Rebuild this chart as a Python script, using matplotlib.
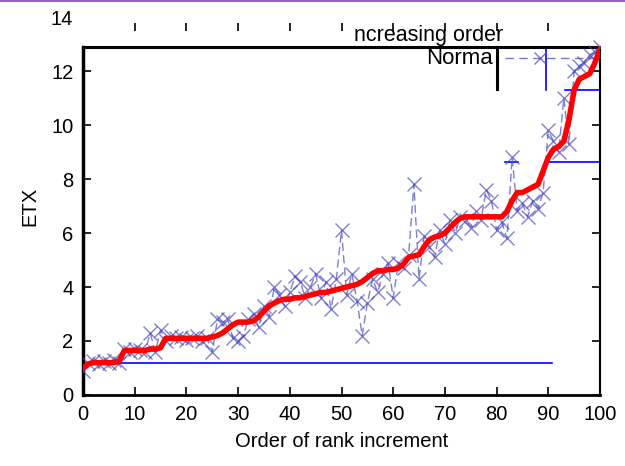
#! /usr/bin/env python3
import matplotlib
matplotlib.use('Agg')
import matplotlib.pyplot as plt

# order of rank increment (0..100)
order = list(range(101))

# sorted / increasing-order ETX (red)
etx_sorted = [
    1.0, 1.15, 1.2, 1.2, 1.2, 1.2, 1.2, 1.25, 1.65, 1.65,
    1.65, 1.65, 1.65, 1.7, 1.7, 1.75, 2.1, 2.1, 2.1, 2.1,
    2.1, 2.1, 2.1, 2.1, 2.1, 2.15, 2.2, 2.3, 2.45, 2.6,
    2.7, 2.7, 2.7, 2.75, 2.9, 3.1, 3.3, 3.4, 3.5, 3.55,
    3.55, 3.6, 3.6, 3.65, 3.7, 3.75, 3.8, 3.8, 3.85, 3.9,
    3.95, 4.0, 4.05, 4.1, 4.2, 4.35, 4.5, 4.6, 4.6, 4.65,
    4.65, 4.7, 4.85, 5.1, 5.15, 5.2, 5.5, 5.75, 5.85, 5.9,
    6.0, 6.2, 6.4, 6.55, 6.6, 6.6, 6.6, 6.6, 6.6, 6.6,
    6.6, 6.6, 6.8, 7.2, 7.5, 7.5, 7.6, 7.7, 7.8, 8.3,
    8.8, 9.1, 9.2, 9.4, 10.2, 11.3, 11.7, 11.8, 11.9, 12.3,
    12.8,
]

# normal-order ETX (blue, dashed with x markers)
etx_normal = [
    0.9, 1.2, 1.25, 1.15, 1.25, 1.2, 1.3, 1.2, 1.7, 1.6,
    1.7, 1.65, 1.6, 2.3, 1.6, 2.4, 2.0, 2.2, 2.1, 2.15,
    2.05, 2.1, 2.2, 2.0, 2.1, 1.6, 2.8, 2.7, 2.8, 2.1,
    2.0, 2.2, 2.8, 3.0, 2.5, 3.3, 2.9, 4.0, 3.7, 3.3,
    3.8, 4.4, 4.2, 3.6, 4.0, 4.5, 3.6, 4.2, 3.2, 4.3,
    6.1, 3.7, 4.5, 3.5, 2.2, 3.4, 4.3, 3.8, 4.5, 4.9,
    3.6, 4.9, 4.7, 5.2, 7.8, 4.3, 5.9, 5.5, 5.1, 6.1,
    5.6, 6.5, 6.0, 6.6, 6.5, 6.2, 6.8, 6.5, 7.6, 7.2,
    6.1, 6.4, 5.8, 8.8, 6.8, 7.1, 6.6, 7.2, 6.9, 7.5,
    9.8, 9.4, 9.0, 11.0, 9.3, 12.0, 12.2, 12.3, 12.6, 12.7,
    12.9,
]

xticks = list(range(0, 101, 10))
yticks = list(range(0, 15, 2))

frame_top = 12.9
base_level = 1.2

plt.rcParams['font.family'] = ['Liberation Sans', 'DejaVu Sans']

fig = plt.figure(figsize=(6.25, 4.66), dpi=100)
ax = fig.add_axes([0.1328, 0.1524, 0.8272, 0.811])

data_blue = '#4a4ac0'

# glitched gnuplot frame / key box
ax.plot([0, 100], [frame_top, frame_top], color='black', lw=2.2,
        solid_capstyle='butt', zorder=3)
ax.plot([80.1, 80.1], [frame_top, 11.35], color='black', lw=2.2, zorder=3)
ax.text(79.3, 12.45, 'Norma', ha='right', va='center', fontsize=16)
ax.text(81.2, 13.3, 'ncreasing order', ha='right', va='center',
        fontsize=15.5, clip_on=False)

# floating top ticks (no top border)
for xt in xticks[1:-1]:
    ax.plot([xt, xt], [13.48, 13.78], color='black', lw=1.2,
            solid_capstyle='butt')

# stray blue lines
ax.plot([0, 90.7], [base_level, base_level], color='blue', lw=1.2)
ax.plot([89.4, 100], [8.62, 8.62], color='blue', lw=1.2)
ax.plot([81.6, 84.1], [8.62, 8.62], color='blue', lw=1.2)
ax.plot([93.2, 100], [11.28, 11.28], color='blue', lw=1.2)
ax.plot([89.5, 89.5], [frame_top, 11.3], color='blue', lw=1.2)

# key sample
ax.plot([81.6, 99], [12.5, 12.5], color=data_blue, lw=1, ls=(0, (6, 4)),
        alpha=0.75)
ax.plot([88.4], [12.5], marker='x', color=data_blue, ms=9, mew=1,
        alpha=0.75)

ax.plot(order, etx_normal, color=data_blue, lw=1, ls=(0, (6, 3)),
        marker='x', ms=9.5, mew=1, alpha=0.7, zorder=4)
ax.plot(order, etx_sorted, color='red', lw=4, zorder=5)

ax.set_xlim(0, 100)
ax.set_ylim(0, 14)
ax.set_xticks(xticks)
ax.set_yticks(yticks)
ax.tick_params(direction='in', length=6, width=1.2, right=True,
               labelsize=14.5, pad=7)
ytl = ax.yaxis.get_major_ticks()
ytl[-1].tick1line.set_visible(False)
ytl[-1].tick2line.set_visible(False)

ax.spines['top'].set_visible(False)
ax.spines['left'].set_bounds(0, frame_top)
ax.spines['right'].set_bounds(0, frame_top)
ax.spines['left'].set_linewidth(2.5)
ax.spines['bottom'].set_linewidth(2)
ax.spines['right'].set_linewidth(1.5)

ax.set_xlabel('Order of rank increment', fontsize=14.5, labelpad=6)
ax.set_ylabel('ETX', fontsize=14.5, labelpad=8)

# thin purple strip along the very top edge
fig.add_artist(plt.Rectangle((0, 0.995), 1, 0.005, transform=fig.transFigure,
                             color='#9a5fc0', lw=0))

fig.savefig('out.png', dpi=100)
